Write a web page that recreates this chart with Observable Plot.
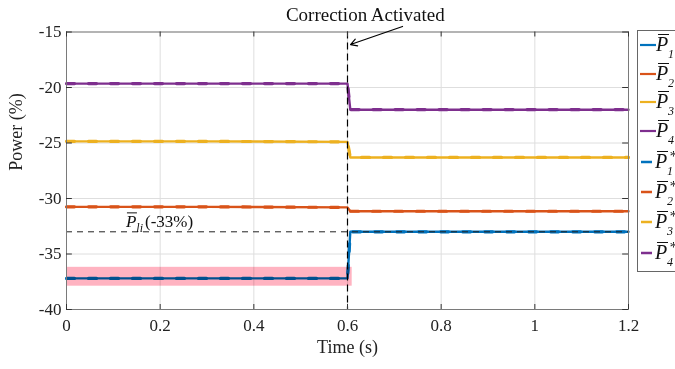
<!DOCTYPE html>
<html><head><meta charset="utf-8">
<script src="https://cdn.jsdelivr.net/npm/d3@7"></script>
<script src="https://cdn.jsdelivr.net/npm/@observablehq/plot@0.6"></script>
<style>
body{margin:0;background:#fff;}
#chart{position:relative;width:675px;height:369px;overflow:hidden;}
</style></head><body><div id="chart"></div>
<script>
// ---- data ----
const time = [0, 0.3, 0.600, 0.606, 0.9, 1.2];
const P1  = [-37.2, -37.2, -37.2, -33.0, -33.0, -33.0];
const P2  = [-30.75, -30.75, -30.8, -31.15, -31.15, -31.15];
const P3  = [-24.85, -24.85, -24.9, -26.3, -26.3, -26.3];
const P4  = [-19.65, -19.65, -19.65, -22.0, -22.0, -22.0];
const P1s = [-37.2, -37.2, -37.2, -33.0, -33.0, -33.0];
const P2s = [-30.75, -30.75, -30.8, -31.15, -31.15, -31.15];
const P3s = [-24.85, -24.85, -24.9, -26.3, -26.3, -26.3];
const P4s = [-19.65, -19.65, -19.65, -22.0, -22.0, -22.0];
const xTicks = [0, 0.2, 0.4, 0.6, 0.8, 1, 1.2];
const yTicks = [-40, -35, -30, -25, -20, -15];
const limitValue = -33;
const eventTime = 0.6;
const highlight = {t0: 0, t1: 0.61, lo: -37.9, hi: -36.2};
const colors = ["#0072BD", "#D95319", "#EDB120", "#7E2F8E"];
const legendSubs = ["1", "2", "3", "4", "1", "2", "3", "4"];

const solid = [P1, P2, P3, P4];
const dashed = [P1s, P2s, P3s, P4s];
const rowsOf = vals => time.map((t, i) => ({t, v: vals[i]}));

const marks = [
  Plot.gridX(xTicks, {stroke: "#dedede", strokeOpacity: 1}),
  Plot.gridY(yTicks, {stroke: "#dedede", strokeOpacity: 1}),
];
solid.forEach((s, i) => marks.push(Plot.line(rowsOf(s), {x: "t", y: "v", stroke: colors[i], strokeWidth: 2.4})));
dashed.forEach((s, i) => marks.push(Plot.line(rowsOf(s), {x: "t", y: "v", stroke: colors[i], strokeWidth: 3.2, strokeDasharray: "8,14"})));
marks.push(
  Plot.rect([highlight], {x1: "t0", x2: "t1", y1: "lo", y2: "hi", fill: "#ffb3c1", mixBlendMode: "multiply"}),
  Plot.ruleY([limitValue], {stroke: "#222", strokeWidth: 1, strokeDasharray: "6,5"}),
  Plot.ruleX([eventTime], {stroke: "#000", strokeWidth: 1.2, strokeDasharray: "7,4"}),
  Plot.frame({stroke: "#7a7a7a", strokeWidth: 1}),
  Plot.ruleX(xTicks, {x: d => d, y1: -40, y2: -39.55, stroke: "#333"}),
  Plot.ruleX(xTicks, {x: d => d, y1: -15, y2: -15.45, stroke: "#333"}),
  Plot.ruleY(yTicks, {y: d => d, x1: 0, x2: 0.0125, stroke: "#333"}),
  Plot.ruleY(yTicks, {y: d => d, x1: 1.2, x2: 1.1875, stroke: "#333"}),
  Plot.axisX(xTicks, {tickSize: 0, tickPadding: 9, tickFormat: d => String(d), label: null, fill: "#222"}),
  Plot.axisY(yTicks, {tickSize: 0, tickPadding: 5, tickFormat: d => String(d), label: null, fill: "#222"}),
  Plot.text(["Time (s)"], {frameAnchor: "bottom", dy: 43, fontSize: 18, fill: "#222"}),
  Plot.text(["Power (%)"], {frameAnchor: "left", dx: -50, rotate: -90, fontSize: 18, fill: "#222"}),
  Plot.text(["Correction Activated"], {x: 0.638, y: -13.5, fontSize: 19, fill: "#111"}),
  Plot.arrow([{a: 0.7175, b: -14.5, c: 0.6065, d: -16.13}], {x1: "a", y1: "b", x2: "c", y2: "d", stroke: "#000", strokeWidth: 1.2, headLength: 9})
);

const plot = Plot.plot({
  width: 675, height: 369,
  marginLeft: 66, marginRight: 47, marginTop: 31.5, marginBottom: 60,
  x: {domain: [0, 1.2]},
  y: {domain: [-40, -15]},
  style: {fontFamily: "'Liberation Serif', 'Times New Roman', serif", fontSize: "17px", background: "#fff", overflow: "visible"},
  marks
});
document.getElementById("chart").appendChild(plot);

const svg = d3.select(plot);
const xs = plot.scale("x"), ys = plot.scale("y");
const ff = "'Liberation Serif', 'Times New Roman', serif";

// P_li label
const lx = xs.apply(0.128), lyb = ys.apply(-32.6);
const lab = svg.append("text").attr("x", lx).attr("y", lyb).attr("text-anchor", "start")
  .attr("font-family", ff).attr("font-size", 17).attr("fill", "#111");
lab.append("tspan").attr("font-style", "italic").text("P");
lab.append("tspan").attr("font-style", "italic").attr("font-size", 12).attr("dy", 5).text("li");
lab.append("tspan").attr("dy", -5).attr("dx", 2).text("(-33%)");
svg.append("line").attr("x1", lx + 1).attr("x2", lx + 11).attr("y1", lyb - 14).attr("y2", lyb - 14)
  .attr("stroke", "#111").attr("stroke-width", 1);

// legend
const lg = svg.append("g").attr("text-anchor", "start");
lg.append("rect").attr("x", 637.5).attr("y", 30.5).attr("width", 60).attr("height", 241)
  .attr("fill", "#fff").attr("stroke", "#666");
const ly = [45, 74, 102, 131, 162, 192, 222, 253];
ly.forEach((y, i) => {
  const star = i >= 4;
  const c = colors[i % 4];
  if (star) lg.append("line").attr("x1", 641).attr("x2", 652).attr("y1", y).attr("y2", y).attr("stroke", c).attr("stroke-width", 2.5);
  else lg.append("line").attr("x1", 640).attr("x2", 656).attr("y1", y).attr("y2", y).attr("stroke", c).attr("stroke-width", 2.2);
  const px = star ? 655 : 656;
  lg.append("text").attr("x", px).attr("y", y + 6)
    .attr("font-family", ff).attr("font-size", 20).attr("fill", "#111").attr("font-style", "italic").text("P");
  lg.append("line").attr("x1", px + 2).attr("x2", px + 13).attr("y1", y - 10.5).attr("y2", y - 10.5)
    .attr("stroke", "#111").attr("stroke-width", 1);
  lg.append("text").attr("x", px + 12).attr("y", y + 13)
    .attr("font-family", ff).attr("font-size", 12).attr("fill", "#111").attr("font-style", "italic").text(legendSubs[i]);
  if (star) lg.append("text").attr("x", px + 14).attr("y", y - 1)
    .attr("font-family", ff).attr("font-size", 15).attr("fill", "#111").attr("font-style", "italic").text("*");
});
</script></body></html>
